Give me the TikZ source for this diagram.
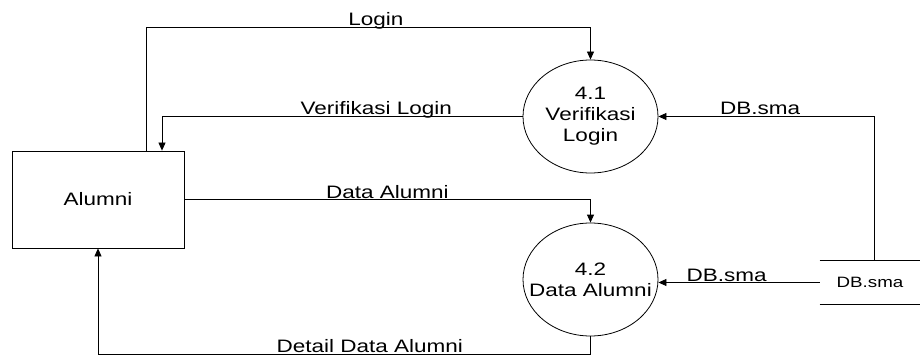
\documentclass[tikz,border=0pt]{standalone}
\usepackage{fontspec}
\setmainfont{Liberation Sans}[FakeStretch=1.25]
\usetikzlibrary{arrows.meta,shapes.geometric}

\begin{document}
\begin{tikzpicture}[x=1pt,y=-1pt,
    line width=0.8pt,
    every node/.style={font=\fontsize{18}{21}\selectfont},
    entity/.style={draw,rectangle,minimum width=172pt,minimum height=97pt,inner sep=0pt},
    proc/.style={draw,ellipse,minimum width=135pt,minimum height=113pt,inner ysep=0pt,inner xsep=-14pt,align=center},
    store/.style={rectangle,minimum width=100pt,minimum height=43pt,inner sep=0pt,font=\fontsize{15}{17}\selectfont},
    flow/.style={-{Triangle[length=8pt,width=7pt]}},
    lbl/.style={anchor=base,inner sep=0pt,yshift=1.5pt}]
    \useasboundingbox (0,0) rectangle (920,358);

    \node[entity] (alumni) at (98,199.5) {Alumni};
    \node[proc] (verif) at (590.5,116.5) {4.1\\Verifikasi\\Login};
    \node[proc] (data) at (590.5,279.5) {4.2\\Data Alumni};
    \node[store] (dbsma) at (870,282.5) {DB.sma};
    \draw (dbsma.north west) -- (dbsma.north east);
    \draw (dbsma.south west) -- (dbsma.south east);

    \coordinate (loginup) at (146,27);
    \coordinate (verifdown) at (162,116.5);
    \coordinate (detaildown) at (98,354);

    % alumni <-> verifikasi
    \draw[flow] (alumni.north -| loginup) -- (loginup)
        -- node[lbl,pos=0.517] {Login} (loginup -| verif.north) -- (verif.north);
    \draw[flow] (verif.west) -- node[lbl,pos=0.406] {Verifikasi Login} (verifdown)
        -- (alumni.north -| verifdown);

    % alumni <-> data alumni
    \draw[flow] (alumni.east) -| node[lbl,pos=0.25] {Data Alumni} (data.north);
    \draw[flow] (data.south) |- node[lbl,pos=0.724] {Detail Data Alumni} (detaildown)
        -- (alumni.south);

    % data store
    \draw[flow] ([xshift=4pt]dbsma.north) |- node[lbl,pos=0.764] {DB.sma} (verif.east);
    \draw[flow] (dbsma.west) -- node[lbl,pos=0.577] {DB.sma} (data.east |- dbsma.west);
\end{tikzpicture}
\end{document}
